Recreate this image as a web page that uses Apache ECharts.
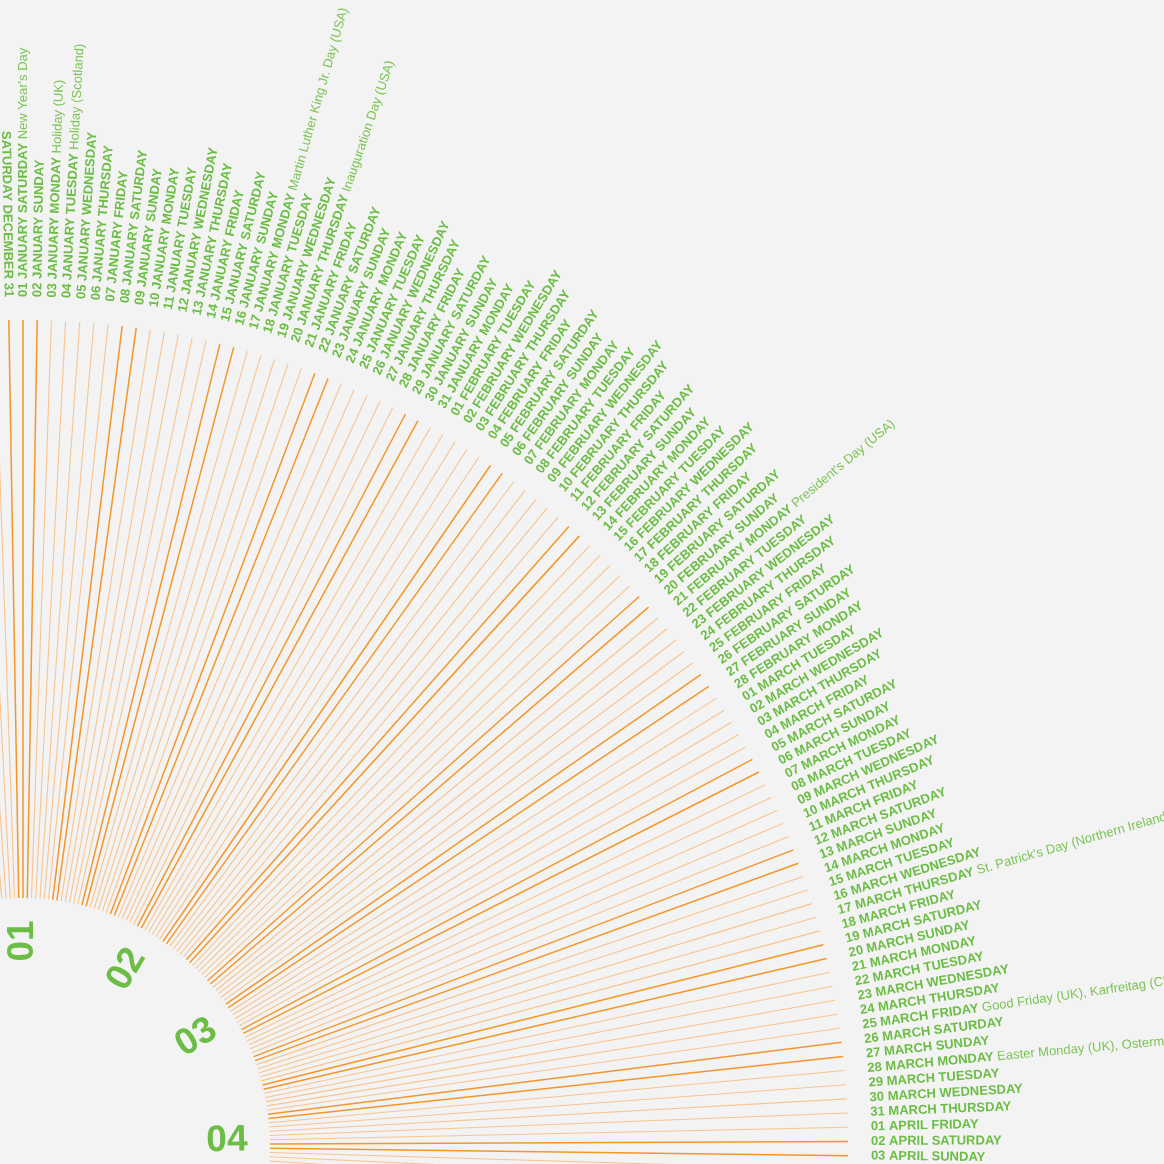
<!DOCTYPE html>
<html>
<head>
<meta charset="utf-8">
<script src="https://cdn.jsdelivr.net/npm/echarts@6/dist/echarts.min.js"></script>
<style>
  html, body { margin: 0; padding: 0; background: #f3f3f3; }
  #container { width: 1164px; height: 1164px; }
</style>
</head>
<body>
<div id="container"></div>
<script>
// calendar of 2011, 1 January is a Saturday
const monthNames = ['JANUARY', 'FEBRUARY', 'MARCH', 'APRIL', 'MAY', 'JUNE',
  'JULY', 'AUGUST', 'SEPTEMBER', 'OCTOBER', 'NOVEMBER', 'DECEMBER'];
const monthLengths = [31, 28, 31, 30, 31, 30, 31, 31, 30, 31, 30, 31];
const monthLabels = ['01', '02', '03', '04', '05', '06', '07', '08', '09', '10', '11', '12'];
const weekdayNames = ['SATURDAY', 'SUNDAY', 'MONDAY', 'TUESDAY', 'WEDNESDAY', 'THURSDAY', 'FRIDAY'];
const weekendNames = ['SATURDAY', 'SUNDAY'];

// [month index, day, note]
const holidays = [
  [0, 1, "New Year's Day"],
  [0, 3, 'Holiday (UK)'],
  [0, 4, 'Holiday (Scotland)'],
  [0, 17, 'Martin Luther King Jr. Day (USA)'],
  [0, 20, 'Inauguration Day (USA)'],
  [1, 21, "President's Day (USA)"],
  [2, 17, "St. Patrick's Day (Northern Ireland)"],
  [2, 25, 'Good Friday (UK), Karfreitag (CH)'],
  [2, 28, 'Easter Monday (UK), Ostermontag (CH)']
];

// every day gets a ray of the same length
const rayLength = 100;

const green = '#6cbd45';
const greenLight = '#7cc456';
const rayWeekend = '#f5962a';
const rayWeekday = '#f8c48f';
const font = '"Liberation Sans", Arial, Helvetica, sans-serif';

const days = [];
let index = 0;
monthNames.forEach((month, m) => {
  for (let d = 1; d <= monthLengths[m]; d++) {
    const weekday = weekdayNames[index % 7];
    const hol = holidays.find(h => h[0] === m && h[1] === d);
    days.push({
      index: index,
      month: month,
      day: String(d).padStart(2, '0'),
      weekday: weekday,
      weekend: weekendNames.indexOf(weekday) >= 0 ? 1 : 0,
      holiday: hol ? hol[2] : ''
    });
    index++;
  }
});

const monthStarts = [];
monthLengths.reduce((acc, len) => { monthStarts.push(acc); return acc + len; }, 0);

const rich = {
  b: { fontFamily: font, fontWeight: 'bold', fontSize: 13, fill: green },
  h: { fontFamily: font, fontWeight: 'normal', fontSize: 13, fill: greenLight }
};

function renderDay(params, api) {
  const day = days[params.dataIndex];
  const inner = api.coord([0, api.value(1)]);
  const outer = api.coord([api.value(0), api.value(1)]);
  const dx = outer[0] - inner[0];
  const dy = outer[1] - inner[1];
  const len = Math.hypot(dx, dy);
  const ux = dx / len;
  const uy = dy / len;
  const ang = Math.atan2(-uy, ux);
  const left = ux < -1e-6;

  let text;
  if (left) {
    text = '{b|' + day.weekday + ' ' + day.month + ' ' + day.day + '}';
    if (day.holiday) text = '{h|' + day.holiday + ' }' + text;
  } else {
    text = '{b|' + day.day + ' ' + day.month + ' ' + day.weekday + '}';
    if (day.holiday) text = text + '{h| ' + day.holiday + '}';
  }

  return {
    type: 'group',
    children: [
      {
        type: 'line',
        shape: { x1: inner[0], y1: inner[1], x2: outer[0], y2: outer[1] },
        style: {
          stroke: api.value(2) ? rayWeekend : rayWeekday,
          lineWidth: api.value(2) ? 1.5 : 1.1
        }
      },
      {
        type: 'text',
        x: outer[0] + ux * 23,
        y: outer[1] + uy * 23,
        rotation: left ? ang + Math.PI : ang,
        style: {
          text: text,
          rich: rich,
          align: left ? 'right' : 'left',
          verticalAlign: 'middle'
        }
      }
    ]
  };
}

function renderMonth(params, api) {
  const cs = params.coordSys;
  const p = api.coord([0, api.value(1)]);
  const dx = p[0] - cs.cx;
  const dy = p[1] - cs.cy;
  const len = Math.hypot(dx, dy);
  const ux = dx / len;
  const uy = dy / len;
  const ang = Math.atan2(-uy, ux);
  const left = ux < -1e-6;
  return {
    type: 'text',
    x: cs.cx + ux * 204,
    y: cs.cy + uy * 204,
    rotation: left ? ang + Math.PI : ang,
    style: {
      text: monthLabels[params.dataIndex],
      fontFamily: font,
      fontWeight: 'bold',
      fontSize: 37,
      fill: green,
      align: 'center',
      verticalAlign: 'middle'
    }
  };
}

const chart = echarts.init(document.getElementById('container'));

const hidden = {
  show: false,
  axisLine: { show: false },
  axisTick: { show: false },
  axisLabel: { show: false },
  splitLine: { show: false }
};

chart.setOption({
  backgroundColor: '#f3f3f3',
  animation: false,
  polar: {
    center: [23, 1145],
    radius: [247, 825]
  },
  angleAxis: {
    type: 'value',
    min: 0,
    max: 365,
    startAngle: 90,
    clockwise: true,
    ...hidden
  },
  radiusAxis: {
    type: 'value',
    min: 0,
    max: 100,
    ...hidden
  },
  series: [
    {
      type: 'custom',
      coordinateSystem: 'polar',
      silent: true,
      renderItem: renderDay,
      data: days.map(d => [rayLength, d.index, d.weekend])
    },
    {
      type: 'custom',
      coordinateSystem: 'polar',
      silent: true,
      renderItem: renderMonth,
      data: monthStarts.map(s => [0, s])
    }
  ]
});
</script>
</body>
</html>
